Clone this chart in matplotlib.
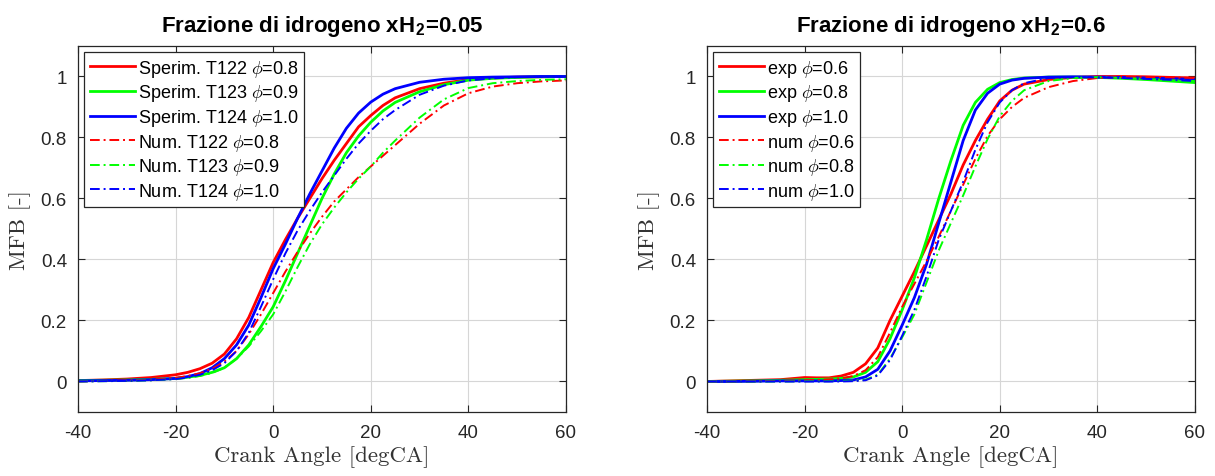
import matplotlib
matplotlib.use("Agg")
import matplotlib.pyplot as plt

plt.rcParams['font.family'] = ['Liberation Sans', 'DejaVu Sans']
plt.rcParams['mathtext.fontset'] = 'cm'
plt.rcParams['axes.unicode_minus'] = False

# crank angle grid (degCA)
theta = [-40, -35, -30, -25, -20, -17.5, -15, -12.5, -10, -7.5, -5, -2.5, 0, 2.5, 5,
         7.5, 10, 12.5, 15, 17.5, 20, 22.5, 25, 30, 35, 40, 45, 50, 55, 60]

# xH2 = 0.05
sp_T122 = [0.003, 0.005, 0.008, 0.013, 0.022, 0.03, 0.042, 0.06, 0.09, 0.14, 0.21, 0.30, 0.39, 0.465, 0.535,
           0.60, 0.665, 0.725, 0.78, 0.835, 0.872, 0.905, 0.93, 0.96, 0.978, 0.99, 0.995, 0.998, 0.999, 1.0]
sp_T123 = [0.003, 0.004, 0.005, 0.007, 0.01, 0.014, 0.02, 0.03, 0.045, 0.075, 0.12, 0.18, 0.245, 0.33, 0.42,
           0.51, 0.60, 0.68, 0.75, 0.805, 0.85, 0.887, 0.915, 0.95, 0.973, 0.988, 0.994, 0.997, 0.999, 1.0]
sp_T124 = [0.002, 0.003, 0.004, 0.006, 0.01, 0.016, 0.026, 0.045, 0.075, 0.12, 0.185, 0.275, 0.37, 0.45, 0.535,
           0.615, 0.69, 0.765, 0.83, 0.88, 0.916, 0.942, 0.96, 0.981, 0.991, 0.996, 0.998, 0.999, 1.0, 1.0]
num_T122 = [0.0, 0.002, 0.003, 0.006, 0.012, 0.018, 0.027, 0.042, 0.065, 0.10, 0.155, 0.22, 0.29, 0.36, 0.425,
            0.485, 0.54, 0.59, 0.63, 0.67, 0.705, 0.74, 0.775, 0.845, 0.905, 0.945, 0.967, 0.978, 0.984, 0.987]
num_T123 = [0.0, 0.001, 0.002, 0.004, 0.008, 0.012, 0.018, 0.028, 0.045, 0.075, 0.115, 0.165, 0.22, 0.295, 0.375,
            0.45, 0.515, 0.57, 0.62, 0.665, 0.705, 0.75, 0.79, 0.865, 0.925, 0.962, 0.978, 0.985, 0.989, 0.991]
num_T124 = [0.0, 0.001, 0.002, 0.004, 0.008, 0.013, 0.022, 0.037, 0.06, 0.1, 0.16, 0.245, 0.335, 0.42, 0.495,
            0.56, 0.62, 0.675, 0.73, 0.78, 0.822, 0.86, 0.89, 0.94, 0.97, 0.987, 0.994, 0.998, 0.999, 1.0]

# xH2 = 0.6
exp_06 = [0.0, 0.002, 0.004, 0.006, 0.013, 0.012, 0.012, 0.018, 0.03, 0.058, 0.11, 0.2, 0.28, 0.36, 0.445,
          0.53, 0.615, 0.71, 0.79, 0.86, 0.92, 0.955, 0.975, 0.99, 0.997, 1.0, 1.0, 0.999, 0.997, 0.995]
exp_08 = [0.0, 0.001, 0.002, 0.004, 0.006, 0.007, 0.008, 0.01, 0.015, 0.03, 0.065, 0.14, 0.235, 0.34, 0.465,
          0.6, 0.725, 0.84, 0.915, 0.958, 0.98, 0.99, 0.995, 0.998, 0.998, 0.997, 0.994, 0.99, 0.985, 0.98]
exp_10 = [0.0, 0.0, 0.001, 0.002, 0.002, 0.002, 0.002, 0.003, 0.005, 0.015, 0.04, 0.1, 0.185, 0.275, 0.385,
          0.52, 0.655, 0.79, 0.89, 0.945, 0.975, 0.988, 0.994, 0.998, 0.999, 0.998, 0.997, 0.995, 0.993, 0.99]
num_06 = [0.0, 0.0, 0.001, 0.002, 0.004, 0.005, 0.007, 0.01, 0.018, 0.037, 0.08, 0.16, 0.245, 0.32, 0.395,
          0.475, 0.56, 0.645, 0.73, 0.805, 0.86, 0.9, 0.93, 0.965, 0.985, 0.995, 0.998, 0.998, 0.997, 0.995]
num_08 = [0.0, 0.0, 0.0, 0.0, 0.001, 0.001, 0.001, 0.002, 0.003, 0.006, 0.022, 0.075, 0.145, 0.22, 0.325,
          0.43, 0.52, 0.61, 0.705, 0.795, 0.87, 0.92, 0.955, 0.985, 0.995, 0.998, 0.995, 0.992, 0.988, 0.985]
num_10 = [0.0, 0.0, 0.0, 0.0, 0.0, 0.0, 0.0, 0.0, 0.001, 0.004, 0.02, 0.07, 0.15, 0.235, 0.345,
          0.465, 0.56, 0.655, 0.76, 0.85, 0.915, 0.955, 0.978, 0.995, 0.998, 0.997, 0.995, 0.992, 0.989, 0.985]

left_labels = ['Sperim. T122 $\\phi$=0.8', 'Sperim. T123 $\\phi$=0.9', 'Sperim. T124 $\\phi$=1.0',
               'Num. T122 $\\phi$=0.8', 'Num. T123 $\\phi$=0.9', 'Num. T124 $\\phi$=1.0']
right_labels = ['exp $\\phi$=0.6', 'exp $\\phi$=0.8', 'exp $\\phi$=1.0',
                'num $\\phi$=0.6', 'num $\\phi$=0.8', 'num $\\phi$=1.0']
titles = ['Frazione di idrogeno xH$_\\mathregular{2}$=0.05', 'Frazione di idrogeno xH$_\\mathregular{2}$=0.6']

colors = ['#ff0000', '#00ff00', '#0000ff']
dashdot = (0, (5, 2, 1, 2))
dark = (0.15, 0.15, 0.15)

fig = plt.figure(figsize=(12.15, 4.77), dpi=100)
ax1 = fig.add_axes([0.0642, 0.1342, 0.4016, 0.7673])
ax2 = fig.add_axes([0.5819, 0.1342, 0.4016, 0.7673])

panels = [(ax1, [sp_T122, sp_T123, sp_T124], [num_T122, num_T123, num_T124], left_labels),
          (ax2, [exp_06, exp_08, exp_10], [num_06, num_08, num_10], right_labels)]

for i, (ax, solid, dashed, labels) in enumerate(panels):
    for k in range(3):
        ax.plot(theta, solid[k], color=colors[k], lw=2.0, label=labels[k])
    for k in range(3):
        ax.plot(theta, dashed[k], color=colors[k], lw=1.4, ls=dashdot, label=labels[k + 3])
    ax.set_xlim(-40, 60)
    ax.set_ylim(-0.1, 1.1)
    ax.set_xticks([-40, -20, 0, 20, 40, 60])
    ax.set_yticks([0, 0.2, 0.4, 0.6, 0.8, 1])
    ax.set_yticklabels(['0', '0.2', '0.4', '0.6', '0.8', '1'])
    ax.grid(True, color=(0.84, 0.84, 0.84), lw=0.8)
    ax.set_axisbelow(True)
    ax.tick_params(direction='in', top=True, right=True, length=5, width=0.8,
                   labelsize=13.5, colors=dark, labelcolor=(0.15, 0.15, 0.15))
    ax.tick_params(axis='x', pad=9)
    ax.tick_params(axis='y', pad=8)
    for s in ax.spines.values():
        s.set_color(dark)
        s.set_linewidth(0.9)
    ax.set_xlabel('Crank Angle [degCA]', family='cmr10', fontsize=16.5, color=(0.2, 0.2, 0.2), labelpad=3)
    ax.set_ylabel('MFB [-]', family='cmr10', fontsize=16.5, color=(0.2, 0.2, 0.2), labelpad=7)
    ax.set_title(titles[i], fontsize=16, fontweight='bold', pad=11)
    leg = ax.legend(loc='upper left', fontsize=13, handlelength=2.5, handletextpad=0.15,
                    labelspacing=0.2, borderaxespad=0.35, borderpad=0.3, fancybox=False,
                    framealpha=1, edgecolor=dark)
    leg.get_frame().set_linewidth(0.9)

fig.savefig('out.png', dpi=100)
